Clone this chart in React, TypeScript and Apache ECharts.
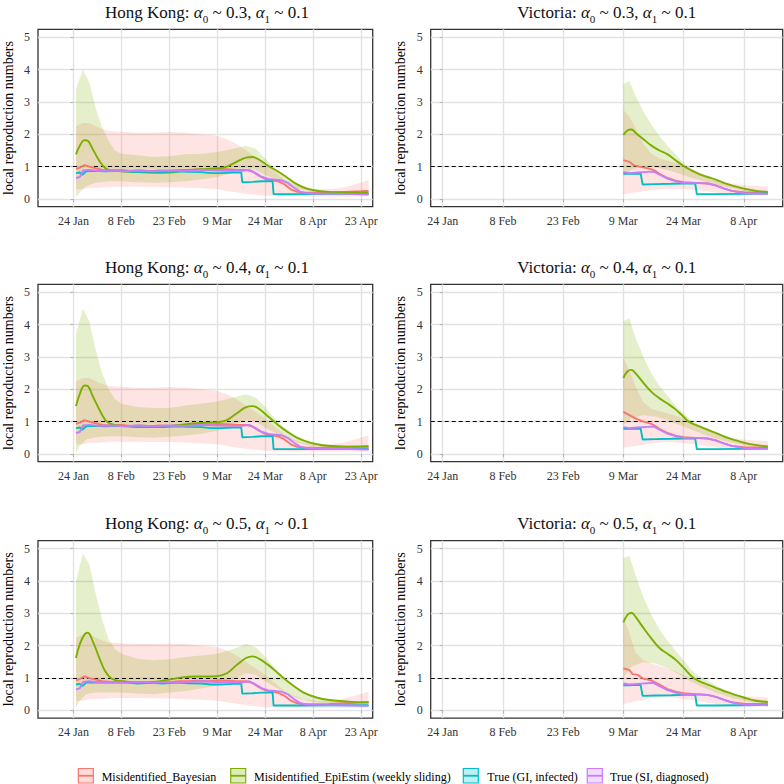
import React, { useEffect, useRef } from 'react';
import * as echarts from 'echarts';

// x = days since 24 Jan 2020
const HK_TICKS = [0, 15, 30, 45, 60, 75, 90];
const HK_TICK_LABELS = ['24 Jan', '8 Feb', '23 Feb', '9 Mar', '24 Mar', '8 Apr', '23 Apr'];
const VIC_TICKS = [0, 15, 30, 45, 60, 75];
const VIC_TICK_LABELS = ['24 Jan', '8 Feb', '23 Feb', '9 Mar', '24 Mar', '8 Apr'];
const Y_TICKS = [0, 1, 2, 3, 4, 5];
const ALPHA0 = ['0.3', '0.4', '0.5'];
const ALPHA1 = '0.1';
const LEGEND_LABELS = ['Misidentified_Bayesian', 'Misidentified_EpiEstim (weekly sliding)', 'True (GI, infected)', 'True (SI, diagnosed)'];

// ---------- Hong Kong ----------
const HK_RED = [[0.8,0.93],[2,0.97],[3.5,1.05],[5,1.0],[7,0.95],[9,0.9],[12,0.88],[15,0.9],[18,0.87],[21,0.88],[24,0.86],[27,0.88],[30,0.87],[33,0.9],[36,0.9],[39,0.92],[42,0.9],[45,0.93],[48,0.92],[51,0.9],[54,0.9],[56,0.85],[58,0.72],[60,0.62],[62,0.58],[64,0.55],[66,0.45],[68,0.3],[70,0.22],[72,0.2],[76,0.19],[80,0.2],[85,0.22],[90,0.24],[92.3,0.25]];
const HK_CYAN = [[0.8,0.8],[2,0.82],[2.8,0.75],[4,0.86],[6,0.87],[10,0.86],[14,0.87],[18,0.85],[20,0.83],[24,0.85],[28,0.83],[32,0.86],[36,0.84],[40,0.83],[43,0.8],[46,0.8],[50,0.82],[52.5,0.82],[52.8,0.52],[56,0.53],[59,0.55],[62.3,0.55],[62.6,0.15],[70,0.15],[80,0.16],[92.3,0.16]];
const HK_PURPLE = [[0.8,0.65],[2,0.68],[3,0.88],[5,0.9],[8,0.87],[12,0.88],[16,0.86],[20,0.88],[25,0.86],[30,0.88],[35,0.87],[40,0.9],[45,0.88],[50,0.87],[53,0.87],[55,0.9],[57,0.8],[59,0.68],[61,0.62],[63,0.6],[65,0.58],[67,0.5],[69,0.35],[71,0.22],[73,0.18],[76,0.17],[85,0.16],[92.3,0.14]];
const HK_RED_UPPER = [[0.8,2.25],[3,2.35],[5,2.35],[8,2.2],[11,2.1],[15,2.08],[20,2.05],[25,2.05],[30,2.07],[35,2.05],[40,2.0],[45,1.95],[48,1.85],[51,1.7],[54,1.5],[57,1.3],[60,1.1],[63,0.85],[66,0.6],[69,0.45],[72,0.35],[76,0.3],[80,0.3],[84,0.35],[88,0.45],[92.3,0.58]];
const HK_RED_LOWER = [[0.8,0.3],[3,0.3],[5,0.35],[8,0.35],[12,0.38],[20,0.38],[30,0.37],[40,0.33],[45,0.3],[50,0.22],[55,0.15],[60,0.1],[70,0.08],[92.3,0.08]];

const HK_GREEN_1 = [[0.8,1.38],[2,1.65],[3.5,1.82],[4.5,1.8],[6,1.55],[8,1.2],[10,0.95],[12,0.88],[15,0.86],[20,0.83],[25,0.81],[30,0.82],[35,0.88],[40,0.92],[45,0.95],[48,1.0],[51,1.15],[54,1.28],[56,1.3],[58,1.22],[61,1.02],[64,0.85],[67,0.65],[70,0.45],[73,0.32],[77,0.24],[82,0.21],[88,0.2],[92.3,0.2]];
const HK_GREEN_UPPER_1 = [[0.8,3.4],[3,4.0],[5,3.6],[7,2.8],[9,2.2],[11,1.8],[13,1.5],[15,1.4],[20,1.35],[25,1.3],[30,1.32],[35,1.38],[40,1.4],[45,1.45],[50,1.55],[54,1.65],[57,1.55],[60,1.25],[63,0.95],[66,0.7],[70,0.48],[74,0.33],[80,0.25],[86,0.22],[92.3,0.22]];
const HK_GREEN_LOWER_1 = [[0.8,0.05],[2,0.2],[4,0.4],[7,0.5],[11,0.55],[15,0.55],[20,0.52],[25,0.5],[30,0.52],[35,0.55],[40,0.6],[45,0.68],[50,0.82],[54,0.95],[57,0.9],[60,0.75],[63,0.6],[66,0.45],[70,0.32],[75,0.22],[82,0.18],[92.3,0.17]];

const HK_GREEN_2 = [[0.8,1.48],[2,1.85],[3.5,2.12],[4.5,2.1],[6,1.8],[8,1.4],[10,1.05],[12,0.92],[15,0.87],[20,0.85],[25,0.83],[30,0.86],[35,0.92],[40,0.96],[45,0.98],[48,1.05],[51,1.25],[54,1.45],[56,1.48],[58,1.4],[61,1.15],[64,0.9],[67,0.68],[70,0.5],[74,0.35],[78,0.27],[84,0.23],[92.3,0.22]];
const HK_GREEN_UPPER_2 = [[0.8,3.7],[3,4.5],[5,4.1],[7,3.2],[9,2.5],[11,2.0],[13,1.7],[15,1.55],[20,1.45],[25,1.42],[30,1.42],[35,1.5],[40,1.55],[45,1.62],[50,1.75],[54,1.85],[57,1.75],[60,1.45],[63,1.1],[66,0.82],[70,0.55],[74,0.38],[80,0.28],[86,0.25],[92.3,0.24]];
const HK_GREEN_LOWER_2 = [[0.8,0.05],[2,0.25],[4,0.45],[7,0.52],[11,0.55],[15,0.55],[20,0.52],[25,0.5],[30,0.53],[35,0.57],[40,0.63],[45,0.72],[50,0.88],[54,1.05],[57,1.0],[60,0.82],[63,0.65],[66,0.5],[70,0.35],[75,0.24],[82,0.19],[92.3,0.18]];

const HK_GREEN_3 = [[0.8,1.62],[2,2.05],[3.5,2.35],[4.5,2.4],[6,2.15],[8,1.65],[10,1.2],[12,0.98],[15,0.9],[20,0.87],[25,0.88],[30,0.95],[34,1.02],[38,1.05],[42,1.05],[45,1.06],[48,1.15],[51,1.4],[54,1.62],[56,1.67],[58,1.6],[61,1.4],[64,1.15],[66,0.98],[69,0.75],[72,0.55],[76,0.4],[80,0.32],[86,0.27],[92.3,0.25]];
const HK_GREEN_UPPER_3 = [[0.8,4.0],[3,4.85],[5,4.5],[7,3.6],[9,2.8],[11,2.2],[13,1.9],[15,1.75],[20,1.6],[25,1.55],[30,1.58],[35,1.65],[40,1.7],[45,1.75],[50,1.9],[54,2.05],[57,1.95],[60,1.65],[63,1.3],[66,1.0],[70,0.7],[74,0.48],[80,0.33],[86,0.28],[92.3,0.27]];
const HK_GREEN_LOWER_3 = [[0.8,0.1],[2,0.3],[4,0.5],[7,0.55],[11,0.55],[15,0.55],[20,0.52],[25,0.5],[30,0.55],[35,0.6],[40,0.68],[45,0.78],[50,0.95],[54,1.15],[57,1.1],[60,0.9],[63,0.72],[66,0.55],[70,0.38],[75,0.26],[82,0.2],[92.3,0.19]];

// ---------- Victoria ----------
const VIC_CYAN = [[45,0.78],[47,0.78],[49.3,0.79],[49.8,0.45],[53,0.46],[57,0.47],[60,0.48],[62.9,0.48],[63.3,0.15],[68,0.15],[75,0.16],[81,0.17]];
const VIC_PURPLE = [[45,0.83],[46.5,0.8],[48.5,0.82],[51,0.84],[52.5,0.85],[54,0.75],[56,0.63],[58,0.55],[60,0.5],[63,0.5],[66,0.48],[68,0.42],[70,0.33],[72,0.25],[75,0.18],[78,0.17],[81,0.16]];

const VIC_RED_1 = [[45,1.2],[46.5,1.15],[47.5,1.05],[49,1.0],[51,0.95],[52.5,0.9],[54,0.78],[56,0.65],[58,0.57],[60,0.52],[63,0.5],[66,0.48],[68,0.42],[70,0.33],[72,0.25],[75,0.21],[81,0.2]];
const VIC_RED_UPPER_1 = [[45,2.75],[46.5,2.55],[48,2.2],[50,1.7],[52,1.4],[54,1.25],[57,1.15],[60,1.05],[63,0.88],[66,0.72],[69,0.58],[72,0.48],[76,0.42],[81,0.38]];
const VIC_RED_LOWER_1 = [[45,0.15],[48,0.2],[52,0.28],[56,0.32],[60,0.3],[64,0.27],[68,0.2],[72,0.15],[81,0.12]];
const VIC_GREEN_1 = [[45,1.98],[46,2.12],[47,2.15],[48,2.05],[50,1.85],[52,1.65],[54,1.5],[56,1.38],[58,1.2],[60,1.02],[62,0.88],[64,0.76],[66,0.68],[68,0.6],[70,0.5],[72,0.42],[75,0.32],[78,0.25],[81,0.22]];
const VIC_GREEN_UPPER_1 = [[45,3.55],[46.5,3.65],[48,3.2],[50,2.7],[52,2.3],[54,1.95],[56,1.65],[58,1.38],[60,1.12],[62,0.92],[64,0.8],[67,0.65],[70,0.52],[73,0.4],[77,0.3],[81,0.25]];
const VIC_GREEN_LOWER_1 = [[45,0.7],[47,0.9],[50,1.0],[53,0.98],[56,0.9],[59,0.78],[62,0.65],[65,0.55],[68,0.45],[72,0.33],[76,0.23],[81,0.18]];

const VIC_RED_2 = [[45,1.3],[46.5,1.2],[48,1.1],[50,1.0],[52,0.93],[54,0.78],[56,0.65],[58,0.57],[60,0.52],[63,0.5],[66,0.48],[68,0.42],[70,0.33],[72,0.25],[75,0.21],[81,0.2]];
const VIC_RED_UPPER_2 = [[45,2.95],[46.5,2.6],[48,2.1],[50,1.6],[52,1.4],[54,1.32],[57,1.22],[60,1.1],[63,0.92],[66,0.75],[69,0.6],[72,0.5],[76,0.43],[81,0.4]];
const VIC_RED_LOWER_2 = [[45,0.2],[48,0.25],[52,0.33],[56,0.38],[60,0.33],[64,0.28],[68,0.2],[72,0.15],[81,0.12]];
const VIC_GREEN_2 = [[45,2.35],[46,2.55],[47,2.6],[48,2.5],[50,2.2],[52,1.92],[54,1.72],[56,1.56],[58,1.38],[60,1.15],[61.3,1.0],[63,0.9],[65,0.8],[67,0.7],[69,0.6],[71,0.5],[73,0.42],[76,0.32],[79,0.26],[81,0.23]];
const VIC_GREEN_UPPER_2 = [[45,4.1],[46.5,4.2],[48,3.6],[50,3.0],[52,2.5],[54,2.1],[56,1.8],[58,1.5],[60,1.25],[62,1.03],[64,0.88],[67,0.72],[70,0.57],[73,0.44],[77,0.32],[81,0.27]];
const VIC_GREEN_LOWER_2 = [[45,0.9],[47,1.1],[50,1.2],[53,1.15],[56,1.05],[59,0.9],[62,0.75],[65,0.6],[68,0.48],[72,0.35],[76,0.25],[81,0.2]];

const VIC_RED_3 = [[45,1.3],[46.5,1.25],[47.3,1.12],[48.5,1.1],[50,0.98],[52,0.93],[54,0.8],[56,0.66],[58,0.58],[60,0.53],[63,0.5],[66,0.48],[68,0.42],[70,0.33],[72,0.25],[75,0.21],[81,0.2]];
const VIC_RED_UPPER_3 = [[45,2.85],[46.5,2.4],[48,1.8],[50,1.55],[52,1.45],[54,1.38],[57,1.25],[60,1.1],[63,0.92],[66,0.75],[69,0.6],[72,0.5],[76,0.43],[81,0.4]];
const VIC_RED_LOWER_3 = [[45,0.2],[48,0.28],[52,0.38],[56,0.42],[60,0.35],[64,0.28],[68,0.2],[72,0.15],[81,0.12]];
const VIC_GREEN_3 = [[45,2.72],[46,2.95],[47,3.02],[48,2.9],[50,2.55],[52,2.22],[54,1.93],[56,1.75],[58,1.57],[60,1.32],[62.5,1.0],[64,0.9],[66,0.8],[68,0.7],[70,0.6],[72,0.52],[75,0.4],[78,0.3],[81,0.26]];
const VIC_GREEN_UPPER_3 = [[45,4.7],[46.5,4.78],[48,4.2],[50,3.5],[52,2.95],[54,2.5],[56,2.15],[58,1.85],[60,1.55],[62,1.25],[64,1.05],[67,0.85],[70,0.65],[73,0.5],[77,0.35],[81,0.3]];
const VIC_GREEN_LOWER_3 = [[45,1.0],[47,1.35],[50,1.5],[53,1.45],[56,1.3],[59,1.1],[62,0.88],[65,0.7],[68,0.55],[72,0.38],[76,0.27],[81,0.2]];

const FONT = 'Liberation Serif';
const RED = '#F8766D';
const GREEN = '#7CAE00';
const CYAN = '#00BFC4';
const PURPLE = '#C77CFF';
const RED_FILL = 'rgba(248,118,109,0.2)';
const GREEN_FILL = 'rgba(124,174,0,0.2)';

type Pt = number[];
interface Panel {
  region: string; a0: string; hk: boolean;
  red: Pt[]; redU: Pt[]; redL: Pt[];
  green: Pt[]; greenU: Pt[]; greenL: Pt[];
  cyan: Pt[]; purple: Pt[];
}

const PANELS: Panel[] = [
  { region: 'Hong Kong', a0: ALPHA0[0], hk: true, red: HK_RED, redU: HK_RED_UPPER, redL: HK_RED_LOWER, green: HK_GREEN_1, greenU: HK_GREEN_UPPER_1, greenL: HK_GREEN_LOWER_1, cyan: HK_CYAN, purple: HK_PURPLE },
  { region: 'Victoria', a0: ALPHA0[0], hk: false, red: VIC_RED_1, redU: VIC_RED_UPPER_1, redL: VIC_RED_LOWER_1, green: VIC_GREEN_1, greenU: VIC_GREEN_UPPER_1, greenL: VIC_GREEN_LOWER_1, cyan: VIC_CYAN, purple: VIC_PURPLE },
  { region: 'Hong Kong', a0: ALPHA0[1], hk: true, red: HK_RED, redU: HK_RED_UPPER, redL: HK_RED_LOWER, green: HK_GREEN_2, greenU: HK_GREEN_UPPER_2, greenL: HK_GREEN_LOWER_2, cyan: HK_CYAN, purple: HK_PURPLE },
  { region: 'Victoria', a0: ALPHA0[1], hk: false, red: VIC_RED_2, redU: VIC_RED_UPPER_2, redL: VIC_RED_LOWER_2, green: VIC_GREEN_2, greenU: VIC_GREEN_UPPER_2, greenL: VIC_GREEN_LOWER_2, cyan: VIC_CYAN, purple: VIC_PURPLE },
  { region: 'Hong Kong', a0: ALPHA0[2], hk: true, red: HK_RED, redU: HK_RED_UPPER, redL: HK_RED_LOWER, green: HK_GREEN_3, greenU: HK_GREEN_UPPER_3, greenL: HK_GREEN_LOWER_3, cyan: HK_CYAN, purple: HK_PURPLE },
  { region: 'Victoria', a0: ALPHA0[2], hk: false, red: VIC_RED_3, redU: VIC_RED_UPPER_3, redL: VIC_RED_LOWER_3, green: VIC_GREEN_3, greenU: VIC_GREEN_UPPER_3, greenL: VIC_GREEN_LOWER_3, cyan: VIC_CYAN, purple: VIC_PURPLE },
];

// layout
const ROW_TOPS = [29.3, 284.3, 540.7];
const PANEL_H = 177.4;
const LEFT_X = 32.3, LEFT_W = 340.4;
const RIGHT_X = 430.7, RIGHT_W = 352;
const HK_RANGE = [-11.07, 93.6];
const VIC_RANGE = [-3.0, 84.7];
const Y_RANGE = [-0.238, 5.247];

function band(i: number, upper: Pt[], lower: Pt[], fill: string) {
  return {
    type: 'custom', coordinateSystem: 'cartesian2d', xAxisIndex: i, yAxisIndex: i,
    silent: true, z: 1, data: [upper[0]],
    renderItem: (_p: any, api: any) => {
      const pts = upper.map((p) => api.coord(p)).concat(lower.slice().reverse().map((p) => api.coord(p)));
      return { type: 'polygon', shape: { points: pts }, style: { fill }, silent: true };
    },
  };
}

function line(i: number, data: Pt[], color: string, smooth: number | boolean, z: number, extra: any = {}) {
  return {
    type: 'line', xAxisIndex: i, yAxisIndex: i, data, symbol: 'none', showSymbol: false, smooth,
    lineStyle: { color, width: 1.9 }, itemStyle: { color }, z, silent: true, ...extra,
  };
}

export default function App() {
  const ref = useRef<HTMLDivElement>(null);
  useEffect(() => {
    if (!ref.current) return;
    const chart = echarts.init(ref.current, null, { renderer: 'svg' });
    const grids: any[] = [], xAxes: any[] = [], yAxes: any[] = [], series: any[] = [], graphics: any[] = [];
    PANELS.forEach((p, i) => {
      const row = Math.floor(i / 2);
      const left = p.hk ? LEFT_X : RIGHT_X;
      const width = p.hk ? LEFT_W : RIGHT_W;
      grids.push({ left, top: ROW_TOPS[row], width, height: PANEL_H, show: true, borderColor: '#333', borderWidth: 1.3, backgroundColor: '#fff' });
      const ticks = p.hk ? HK_TICKS : VIC_TICKS;
      const labels = p.hk ? HK_TICK_LABELS : VIC_TICK_LABELS;
      const range = p.hk ? HK_RANGE : VIC_RANGE;
      xAxes.push({
        type: 'value', gridIndex: i, min: range[0], max: range[1],
        axisLine: { show: false },
        axisTick: { show: true, customValues: ticks, length: 3, lineStyle: { color: '#B3B3B3' } },
        axisLabel: { customValues: ticks, formatter: (v: number) => labels[ticks.indexOf(Math.round(v))] ?? '', fontFamily: FONT, fontSize: 12, color: '#333', margin: 8 },
        splitLine: { show: true, lineStyle: { color: '#E2E2E2', width: 1.4 } },
      });
      yAxes.push({
        type: 'value', gridIndex: i, min: Y_RANGE[0], max: Y_RANGE[1],
        axisLine: { show: false },
        axisTick: { show: true, customValues: Y_TICKS, length: 3, lineStyle: { color: '#B3B3B3' } },
        axisLabel: { customValues: Y_TICKS, fontFamily: FONT, fontSize: 12, color: '#333', margin: 8 },
        splitLine: { show: true, lineStyle: { color: '#E2E2E2', width: 1.4 } },
        name: 'local reproduction numbers', nameLocation: 'middle', nameGap: 23,
        nameTextStyle: { fontFamily: FONT, fontSize: 14, color: '#000' },
      });
      series.push(band(i, p.redU, p.redL, RED_FILL));
      series.push(band(i, p.greenU, p.greenL, GREEN_FILL));
      series.push(line(i, p.red, RED, false, 3, {
        markLine: { silent: true, symbol: ['none', 'none'], label: { show: false }, z: 2,
          lineStyle: { color: '#000', type: [4, 3], width: 1.2 }, data: [{ yAxis: 1 }] },
      }));
      series.push(line(i, p.green, GREEN, 0.4, 4));
      series.push(line(i, p.cyan, CYAN, false, 5));
      series.push(line(i, p.purple, PURPLE, false, 6));

      const cx = p.hk ? 207 : RIGHT_X + RIGHT_W / 2;
      graphics.push({
        type: 'text', x: cx, y: ROW_TOPS[row] - 17, silent: true,
        style: {
          text: `{n|${p.region}: }{a|α}{s|0}{n| ~ ${p.a0}, }{a|α}{s|1}{n| ~ ${ALPHA1}}`,
          align: 'center', verticalAlign: 'middle', fill: '#000', fontFamily: FONT, fontWeight: 'normal',
          rich: {
            n: { fontSize: 17, fontFamily: FONT, fontWeight: 'normal', fill: '#111' },
            a: { fontSize: 17, fontFamily: FONT, fontWeight: 'normal', fontStyle: 'italic', fill: '#111' },
            s: { fontSize: 11, fontFamily: FONT, fontWeight: 'normal', fill: '#111', padding: [13, 0, 0, 0] },
          },
        },
      });
    });

    // legend
    const legColors = [RED, GREEN, CYAN, PURPLE];
    const legFills = ['rgba(248,118,109,0.25)', 'rgba(124,174,0,0.25)', 'rgba(0,191,196,0.25)', 'rgba(199,124,255,0.25)'];
    const keyX = [78.3, 230.7, 463.3, 587.3];
    const textX = [101.7, 254, 487.3, 610];
    LEGEND_LABELS.forEach((lab, k) => {
      graphics.push({ type: 'rect', silent: true, shape: { x: keyX[k], y: 768.5, width: 15, height: 14.5 }, style: { fill: legFills[k], stroke: legColors[k], lineWidth: 1.2 } });
      graphics.push({ type: 'line', silent: true, shape: { x1: keyX[k], y1: 775.75, x2: keyX[k] + 15, y2: 775.75 }, style: { stroke: legColors[k], lineWidth: 1.8 } });
      graphics.push({ type: 'text', silent: true, x: textX[k], y: 776.5, style: { text: lab, fontSize: 12, fontFamily: FONT, fill: '#000', verticalAlign: 'middle', align: 'left' } });
    });

    chart.setOption({
      animation: false,
      backgroundColor: '#fff',
      grid: grids, xAxis: xAxes, yAxis: yAxes, series, graphic: graphics,
    });
    return () => chart.dispose();
  }, []);
  return <div ref={ref} style={{ position: 'fixed', left: 0, top: 0, width: 784, height: 784 }} />;
}
